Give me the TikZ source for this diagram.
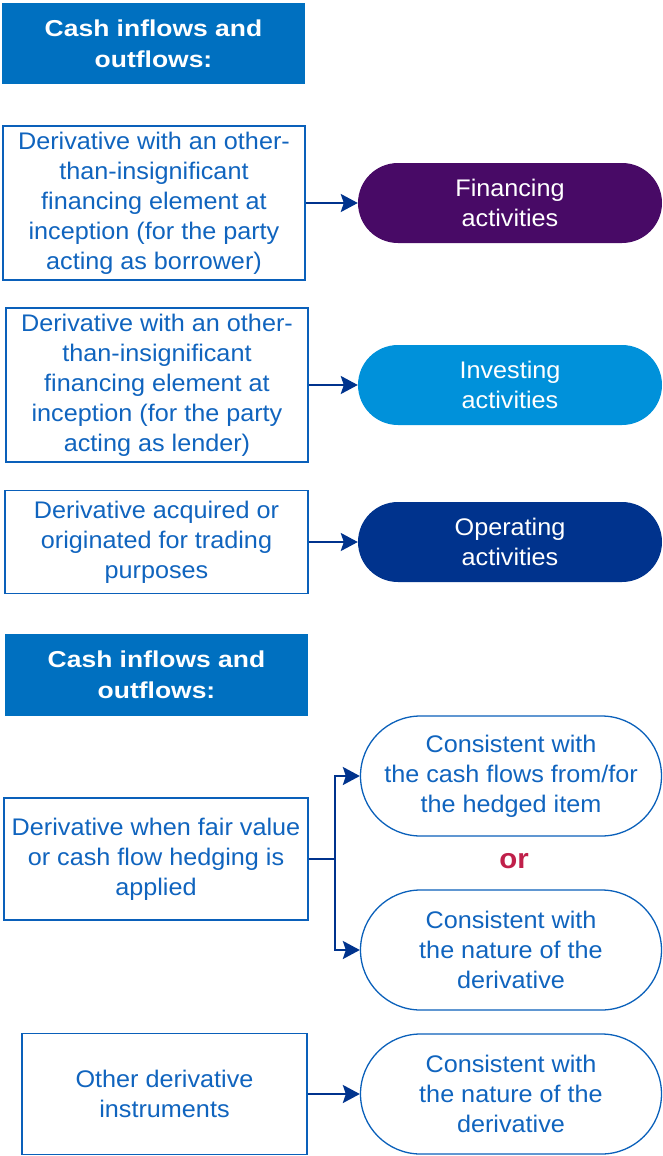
\documentclass[tikz,border=0pt]{standalone}
\usepackage{fontspec}
\setmainfont{Liberation Sans}[FakeStretch=1.05]
\newfontfamily\hdrfont{Liberation Sans}[FakeStretch=1.15]
\usetikzlibrary{arrows.meta}
\definecolor{hdrblue}{RGB}{0,112,192}
\definecolor{boxline}{RGB}{10,96,186}
\definecolor{boxtext}{RGB}{16,100,190}
\definecolor{finpurple}{RGB}{72,10,102}
\definecolor{invblue}{RGB}{0,145,218}
\definecolor{opblue}{RGB}{0,51,141}
\definecolor{arrblue}{RGB}{0,51,141}
\definecolor{orred}{RGB}{192,32,74}
\begin{document}
\begin{tikzpicture}[x=1pt,y=-1pt,
  hdr/.style={fill=hdrblue, text=white, inner sep=0pt, align=center,
    font=\hdrfont\bfseries\fontsize{23}{31}\selectfont},
  boxnode/.style={draw=boxline, line width=1.3pt, text=boxtext, inner sep=0pt, align=center,
    font=\fontsize{24}{30}\selectfont},
  pillfill/.style={inner sep=0pt, align=center, text=white, minimum height=80pt,
    rounded corners=40pt, font=\fontsize{24}{30}\selectfont},
  pillline/.style={draw=boxline, line width=1.3pt, inner sep=0pt, align=center, text=boxtext,
    minimum height=120pt, rounded corners=60pt, font=\fontsize{24}{30}\selectfont},
  arr/.style={draw=arrblue, line width=2.2pt, -{Stealth[length=17pt,width=18pt,inset=3pt]}}
]
\useasboundingbox (0,0) rectangle (662,1156);

\node[hdr, minimum width=303pt, minimum height=81pt] (h1) at (153.5,43.5) {Cash inflows and\\outflows:};

\node[boxnode, minimum width=302pt, minimum height=154pt] (b1) at (154,203)
  {Derivative with an other-\\than-insignificant\\financing element at\\inception (for the party\\acting as borrower)};
\node[pillfill, fill=finpurple, minimum width=304pt] (p1) at (510,203) {Financing\\activities};
\draw[arr] (b1.east) -- (p1.west);

\node[boxnode, minimum width=302pt, minimum height=154pt] (b2) at (157,385)
  {Derivative with an other-\\than-insignificant\\financing element at\\inception (for the party\\acting as lender)};
\node[pillfill, fill=invblue, minimum width=304pt] (p2) at (510,385) {Investing\\activities};
\draw[arr] (b2.east) -- (p2.west);

\node[boxnode, minimum width=303pt, minimum height=103pt] (b3) at (156.5,542)
  {Derivative acquired or\\originated for trading\\purposes};
\node[pillfill, fill=opblue, minimum width=304pt] (p3) at (510,542) {Operating\\activities};
\draw[arr] (b3.east) -- (p3.west);

\node[hdr, minimum width=303pt, minimum height=82pt] (h2) at (156.5,675) {Cash inflows and\\outflows:};

\node[boxnode, minimum width=304pt, minimum height=122pt] (b4) at (156,859)
  {Derivative when fair value\\or cash flow hedging is\\applied};
\node[pillline, minimum width=301pt] (p4) at (511,776) {Consistent with\\the cash flows from/for\\the hedged item};
\node[text=orred, font=\bfseries\fontsize{28}{30}\selectfont, inner sep=0pt] (or) at (514,861) {or};
\node[pillline, minimum width=301pt] (p5) at (511,950) {Consistent with\\the nature of the\\derivative};
\draw[draw=arrblue, line width=2.2pt] (b4.east) -- ++(26,0) coordinate (br);
\draw[arr] (br) |- (p4.west);
\draw[arr] (br) |- (p5.west);

\node[boxnode, minimum width=285pt, minimum height=121pt] (b5) at (164.5,1094)
  {Other derivative\\instruments};
\node[pillline, minimum width=301pt] (p6) at (511,1094) {Consistent with\\the nature of the\\derivative};
\draw[arr] (b5.east) -- (p6.west);
\end{tikzpicture}
\end{document}
